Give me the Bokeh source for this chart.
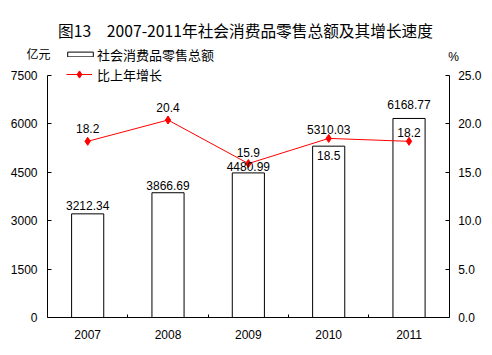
from bokeh.plotting import figure
from bokeh.models import (Range1d, LinearAxis, FixedTicker, ColumnDataSource, LabelSet,
                          Legend, LegendItem, Label, PrintfTickFormatter)
from bokeh.embed import file_html
from bokeh.resources import INLINE
from bokeh.core.properties import value

# ---- data ----
years = ["2007", "2008", "2009", "2010", "2011"]
sales = [3212.34, 3866.69, 4480.99, 5310.03, 6168.77]
growth = [18.2, 20.4, 15.9, 18.5, 18.2]
sales_ticks = [0, 1500, 3000, 4500, 6000, 7500]
growth_ticks = [0, 5, 10, 15, 20, 25]

title_text = "图13　2007-2011年社会消费品零售总额及其增长速度"
bar_name = "社会消费品零售总额"
line_name = "比上年增长"
left_unit = "亿元"
right_unit = "%"

# ---- layout / style (pixels) ----
W, H = 490, 353
FL, FR, FT, FB = 47, 448.7, 75, 317          # plot-area box on the canvas
bar_label_offset = [8, 7, 6, 17, 14]
growth_label_offset = [13, 13, 11, -17, 9]
NUM_FONT = "Liberation Sans"
CJK_FONT = "Noto Sans CJK SC"

n = len(years)
x = list(range(n))
x_lo, x_hi = -0.5, n - 0.5
xu = (x_hi - x_lo) / (FR - FL)
s_lo, s_hi = sales_ticks[0], sales_ticks[-1]
su = (s_hi - s_lo) / (FB - FT)
g_lo, g_hi = growth_ticks[0], growth_ticks[-1]
gu = (g_hi - g_lo) / (FB - FT)

src = ColumnDataSource(dict(
    x=x, sales=sales, growth=growth,
    sales_text=[f"{v:.2f}" for v in sales],
    growth_text=[f"{v:.1f}" for v in growth],
    boff=bar_label_offset, goff=growth_label_offset,
))

p = figure(width=W, height=H, output_backend="svg", toolbar_location=None, title=None,
           x_range=Range1d(x_lo - FL * xu, x_hi + (W - FR) * xu),
           y_range=Range1d(s_lo - (H - FB) * su, s_hi + FT * su),
           min_border=0, min_border_left=0, min_border_right=0,
           min_border_top=0, min_border_bottom=0)
p.extra_y_ranges = {"pct": Range1d(g_lo - (H - FB) * gu, g_hi + FT * gu)}
p.outline_line_color = None
p.grid.visible = False
p.background_fill_color = "white"
p.border_fill_color = "white"

def style_axis(ax, standoff):
    ax.axis_line_color = "black"
    ax.axis_line_width = 1
    ax.major_tick_line_color = "black"
    ax.minor_tick_line_color = "black"
    ax.major_tick_in = 4
    ax.major_tick_out = 0
    ax.minor_tick_in = 0
    ax.minor_tick_out = 0
    ax.major_label_standoff = standoff
    ax.major_label_text_font = NUM_FONT
    ax.major_label_text_font_size = "12px"
    ax.major_label_text_color = "black"

ya = p.yaxis[0]
ya.ticker = FixedTicker(ticks=sales_ticks)
ya.fixed_location = x_lo
ya.bounds = (s_lo, s_hi)
style_axis(ya, 10)

ra = LinearAxis(y_range_name="pct", ticker=FixedTicker(ticks=growth_ticks),
                formatter=PrintfTickFormatter(format="%.1f"),
                fixed_location=x_hi, bounds=(g_lo, g_hi))
style_axis(ra, 9)
p.add_layout(ra, "right")

xa = p.xaxis[0]
xa.ticker = FixedTicker(ticks=x, minor_ticks=[i + 0.5 for i in x[:-1]])
xa.fixed_location = s_lo
xa.bounds = (x_lo, x_hi)
style_axis(xa, 12)
xa.major_tick_in = 0
xa.minor_tick_in = 3
xa.major_label_overrides = {i: yr for i, yr in zip(x, years)}

bars = p.vbar(x="x", top="sales", width=0.4, source=src,
              fill_color="white", line_color="black", line_width=1)
ln = p.line(x="x", y="growth", source=src, y_range_name="pct",
            line_color="#FF0000", line_width=1)
pts = p.scatter(x="x", y="growth", source=src, y_range_name="pct",
                marker="diamond", size=8, fill_color="#FF0000", line_color="#FF0000")

p.add_layout(LabelSet(x="x", y="sales", text="sales_text", y_offset="boff", source=src,
                      text_align="center", text_baseline="middle",
                      text_font=value(NUM_FONT), text_font_size="12px", text_color="black"))
p.add_layout(LabelSet(x="x", y="growth", text="growth_text", y_offset="goff", source=src,
                      y_range_name="pct",
                      text_align="center", text_baseline="middle",
                      text_font=value(NUM_FONT), text_font_size="12px", text_color="black"))

def make_legend(item, loc, gw, gh, standoff):
    return Legend(items=[item], location=loc, glyph_width=gw, glyph_height=gh,
                  label_height=gh, label_standoff=standoff, padding=0, margin=0, spacing=0,
                  border_line_color=None, background_fill_alpha=0,
                  label_text_font=CJK_FONT, label_text_font_size="13px",
                  label_text_color="black")

# location = bottom-left corner, measured from the canvas bottom-left
p.add_layout(make_legend(LegendItem(label=bar_name, renderers=[bars]), (64, H - 63.7), 32, 6, 1))
p.add_layout(make_legend(LegendItem(label=line_name, renderers=[ln, pts]), (66, H - 83.7), 26, 18, 5))

def screen_label(text, cx, cy, font, size):
    p.add_layout(Label(x=cx, y=H - cy, x_units="screen", y_units="screen", text=text,
                       text_align="center", text_baseline="middle",
                       text_font=font, text_font_size=size, text_color="black"))

screen_label(title_text, 245, 30, CJK_FONT, "15.7px")
screen_label(left_unit, 38, 53, CJK_FONT, "12px")
screen_label(right_unit, 453, 56, NUM_FONT, "12px")

open("out.html", "w").write(file_html(p, INLINE))
